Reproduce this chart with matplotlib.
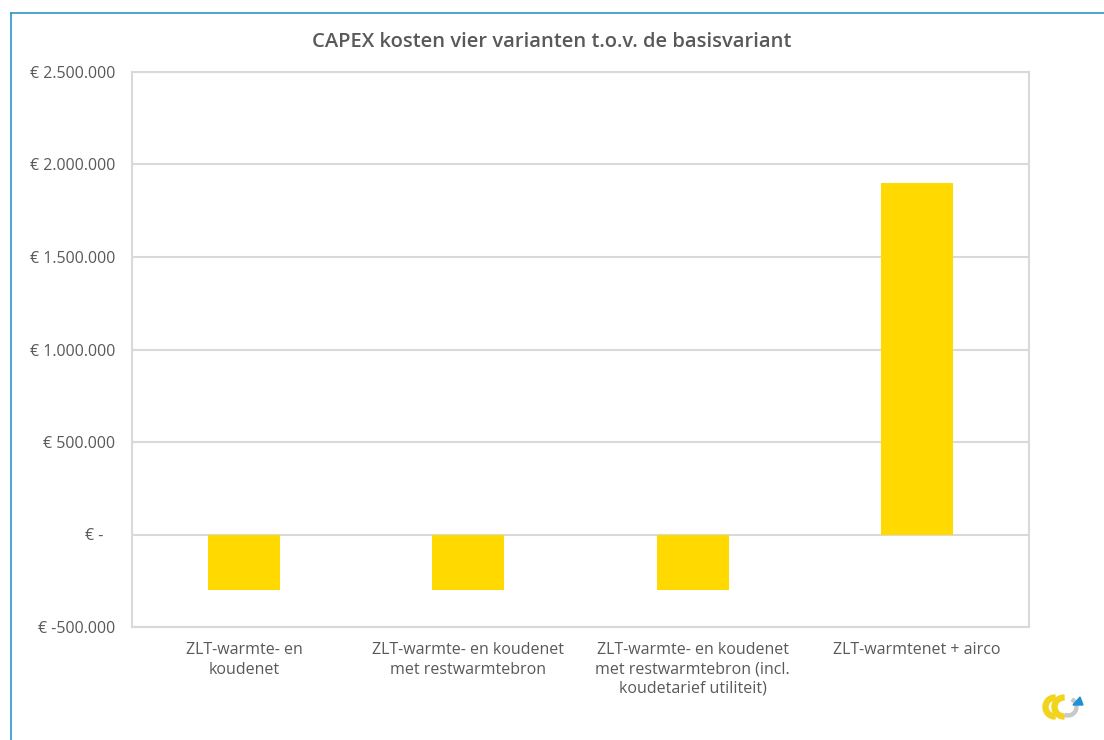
import matplotlib
matplotlib.use('Agg')
import matplotlib.pyplot as plt
from matplotlib.ticker import FuncFormatter
from matplotlib.patches import Polygon, Wedge
import numpy as np

# data
categorieen = ["ZLT-warmte- en\nkoudenet",
               "ZLT-warmte- en koudenet\nmet restwarmtebron",
               "ZLT-warmte- en koudenet\nmet restwarmtebron (incl.\nkoudetarief utiliteit)",
               "ZLT-warmtenet + airco"]
capex = [-300000, -300000, -300000, 1900000]
titel = "CAPEX kosten vier varianten t.o.v. de basisvariant"

grijs = '#595959'
lijn = '#d9d9d9'
geel = '#ffd900'

plt.rcParams['font.family'] = ['Open Sans', 'DejaVu Sans']

W, H = 1104, 740
fig = plt.figure(figsize=(W / 100, H / 100), dpi=100)
ax = fig.add_axes([132 / W, 1 - 627 / H, (1029 - 132) / W, (627 - 72) / H])

x = np.arange(len(categorieen))
ax.bar(x, capex, width=0.32, color=geel, zorder=3)

ax.set_ylim(-500000, 2500000)
ax.set_xlim(-0.5, len(categorieen) - 0.5)
ax.set_yticks(np.arange(-500000, 2500001, 500000))


def euro(v, pos):
    # boekhoudnotatie zoals in Excel
    if v == 0:
        return "€ -   "
    s = "{:,.0f}".format(v).replace(",", ".")
    return "€ " + s


ax.yaxis.set_major_formatter(FuncFormatter(euro))
ax.grid(axis='y', color=lijn, linewidth=1.5, zorder=0)
for sp in ax.spines.values():
    sp.set_color(lijn)
    sp.set_linewidth(1.5)
ax.tick_params(axis='both', length=0, colors=grijs, labelsize=11.5)
ax.tick_params(axis='y', pad=12)
ax.set_xticks(x)
ax.set_xticklabels(categorieen, color=grijs, fontsize=11.5, linespacing=1.28)
ax.tick_params(axis='x', pad=11)

fig.text(0.5, 1 - 42 / H, titel, ha='center', va='center', fontsize=14.5,
         color=grijs, fontweight='semibold')

# kader rond de grafiek
fig.add_artist(plt.Line2D([11 / W, 1], [1 - 13 / H, 1 - 13 / H], color='#2e93c8',
                          linewidth=1.2, transform=fig.transFigure))
fig.add_artist(plt.Line2D([11 / W, 11 / W], [0, 1 - 13 / H], color='#2e93c8',
                          linewidth=1.2, transform=fig.transFigure))

# klein logo rechtsonder
lax = fig.add_axes([1035 / W, 1 - 725 / H, 60 / W, 40 / H])
lax.set_xlim(0, 60)
lax.set_ylim(0, 40)
lax.set_aspect('equal')
lax.axis('off')
lax.add_patch(Wedge((20, 18), 12, 90, 270, width=5, color='#f2d41c'))
lax.add_patch(Wedge((29, 18), 12, 90, 270, width=5, color='#f2d41c'))
lax.add_patch(Wedge((33, 18), 10, 250, 60, width=3, color='#c8c8c8'))
lax.add_patch(Polygon([[38, 20], [48, 20], [45, 28]], color='#1e90d6'))

fig.savefig('out.png', dpi=100)
